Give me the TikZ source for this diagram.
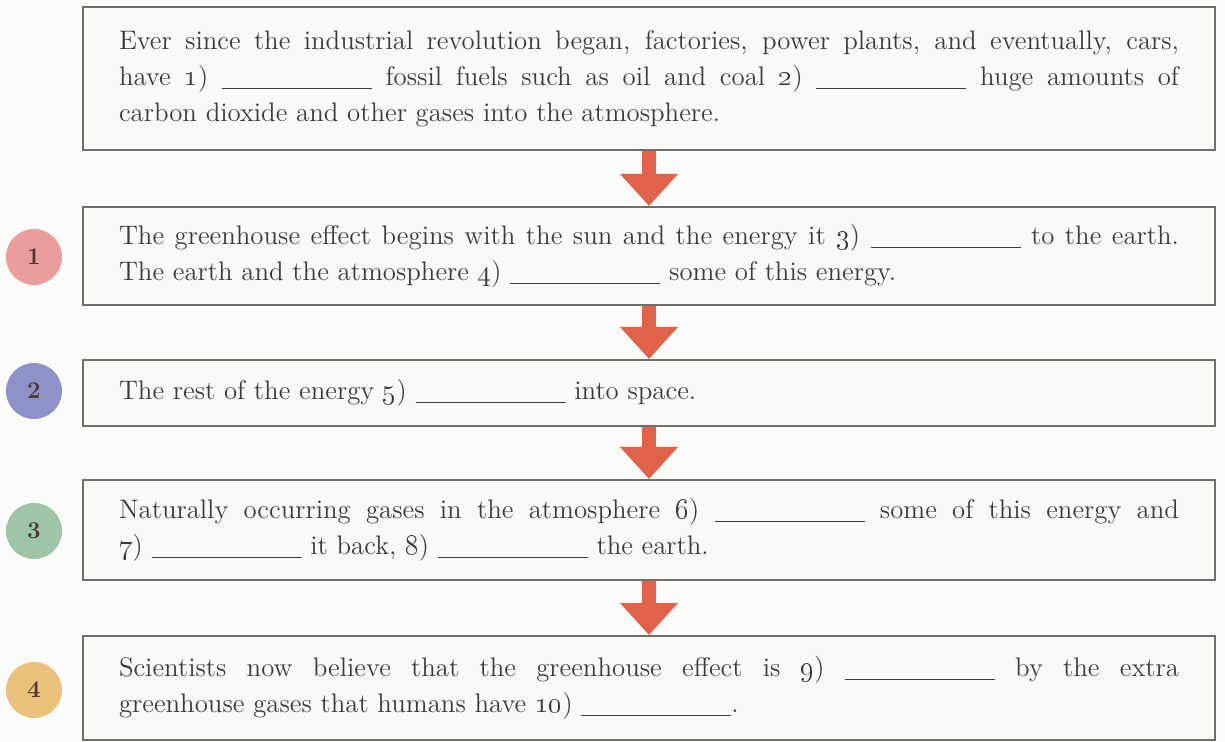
\documentclass[tikz,border=0pt]{standalone}
\usetikzlibrary{arrows.meta}
\definecolor{bg}{HTML}{FBFBFA}
\definecolor{boxline}{HTML}{6E6F68}
\definecolor{boxfill}{HTML}{F9F9F7}
\definecolor{txt}{HTML}{3A3A3A}
\definecolor{arrowc}{HTML}{E0624A}
\definecolor{cone}{HTML}{EB9C9C}
\definecolor{ctwo}{HTML}{8F91C9}
\definecolor{cthree}{HTML}{9DC5A6}
\definecolor{cfour}{HTML}{EBC27C}
\definecolor{numc}{HTML}{4A3A32}
\newcommand\blank{\underline{\hspace{75pt}}}
\newcommand\on[1]{\oldstylenums{#1}}
\begin{document}
\begin{tikzpicture}[x=0.5pt,y=-0.5pt,
  textbox/.style={draw=boxline, line width=1pt, fill=boxfill, text width=530pt,
    inner xsep=18pt, inner ysep=0pt, align=justify, text=txt,
    font=\fontsize{13.4}{18}\selectfont},
  numcirc/.style={circle, minimum size=28pt, inner sep=0pt, text=numc,
    font=\fontsize{12}{12}\selectfont\bfseries},
  flowarrow/.style={draw=arrowc, line width=7pt,
    -{Triangle[width=28pt,length=16pt,fill=arrowc]}}]
\useasboundingbox[fill=bg] (0,0) rectangle (1225,742);

\node[textbox, minimum height=71.5pt] (b1) at (649,78.5)
 {Ever since the industrial revolution began, factories, power plants, and eventually, cars,\linebreak
  have \on{1}) \blank{} fossil fuels such as oil and coal \on{2}) \blank{} huge amounts of\linebreak
  carbon dioxide and other gases into the atmosphere.};
\node[textbox, minimum height=49pt] (b2) at (649,256)
 {The greenhouse effect begins with the sun and the energy it \on{3}) \blank{} to the earth.\linebreak
  The earth and the atmosphere \on{4}) \blank{} some of this energy.};
\node[textbox, minimum height=33pt] (b3) at (649,393)
 {The rest of the energy \on{5}) \blank{} into space.};
\node[textbox, minimum height=50pt] (b4) at (649,530)
 {Naturally occurring gases in the atmosphere \on{6}) \blank{} some of this energy and\linebreak
  \on{7}) \blank{} it back, \on{8}) \blank{} the earth.};
\node[textbox, minimum height=52pt] (b5) at (649,688)
 {Scientists now believe that the greenhouse effect is \on{9}) \blank{} by the extra\linebreak
  greenhouse gases that humans have \on{10}) \blank{}.};

\draw[flowarrow] (b1) -- (b2);
\draw[flowarrow] (b2) -- (b3);
\draw[flowarrow] (b3) -- (b4);
\draw[flowarrow] (b4) -- (b5);

\node[numcirc, fill=cone] (n1) at (34,257) {1};
\node[numcirc, fill=ctwo] (n2) at (34,391) {2};
\node[numcirc, fill=cthree] (n3) at (34,531) {3};
\node[numcirc, fill=cfour] (n4) at (34,690) {4};
\end{tikzpicture}
\end{document}
